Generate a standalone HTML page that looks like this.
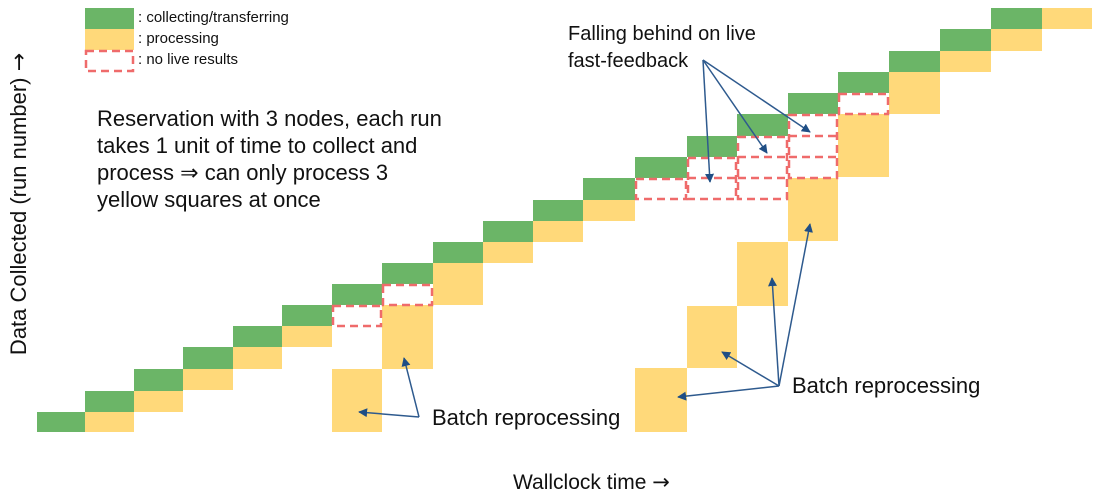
<!DOCTYPE html>
<html><head><meta charset="utf-8"><style>
html,body{margin:0;padding:0;background:#fff;}
svg{display:block;}
text{font-family:"Liberation Sans",Arial,sans-serif;fill:#111;}
</style></head><body>
<svg width="1101" height="496" viewBox="0 0 1101 496" xmlns="http://www.w3.org/2000/svg">
<defs>
<marker id="ah" viewBox="0 0 10 10" refX="9" refY="5" markerWidth="9" markerHeight="9" markerUnits="userSpaceOnUse" orient="auto">
<path d="M0,0 L10,5 L0,10 z" fill="#1f4e85"/>
</marker>
</defs>
<g fill="#6bb567">
<rect x="37" y="412" width="48" height="20"/>
<rect x="85" y="391" width="49" height="21"/>
<rect x="134" y="369" width="49" height="22"/>
<rect x="183" y="347" width="50" height="22"/>
<rect x="233" y="326" width="49" height="21"/>
<rect x="282" y="305" width="50" height="21"/>
<rect x="332" y="284" width="50" height="21"/>
<rect x="382" y="263" width="51" height="21"/>
<rect x="433" y="242" width="50" height="21"/>
<rect x="483" y="221" width="50" height="21"/>
<rect x="533" y="200" width="50" height="21"/>
<rect x="583" y="178" width="52" height="22"/>
<rect x="635" y="157" width="52" height="21"/>
<rect x="687" y="136" width="50" height="21"/>
<rect x="737" y="114" width="51" height="22"/>
<rect x="788" y="93" width="50" height="21"/>
<rect x="838" y="72" width="51" height="21"/>
<rect x="889" y="51" width="51" height="21"/>
<rect x="940" y="29" width="51" height="22"/>
<rect x="991" y="8" width="51" height="21"/>
<rect x="85" y="8" width="49" height="21"/>
</g>
<g fill="#ffd97a">
<rect x="85" y="412" width="49" height="20"/>
<rect x="134" y="391" width="49" height="21"/>
<rect x="183" y="369" width="50" height="21"/>
<rect x="233" y="347" width="49" height="22"/>
<rect x="282" y="326" width="50" height="21"/>
<rect x="433" y="263" width="50" height="42"/>
<rect x="483" y="242" width="50" height="21"/>
<rect x="533" y="221" width="50" height="21"/>
<rect x="583" y="200" width="52" height="21"/>
<rect x="788" y="178" width="50" height="63"/>
<rect x="838" y="114" width="51" height="63"/>
<rect x="889" y="72" width="51" height="42"/>
<rect x="940" y="51" width="51" height="21"/>
<rect x="991" y="29" width="51" height="22"/>
<rect x="1042" y="8" width="50" height="21"/>
<rect x="332" y="369" width="50" height="63"/>
<rect x="382" y="305" width="51" height="64"/>
<rect x="635" y="368" width="52" height="64"/>
<rect x="687" y="306" width="50" height="62"/>
<rect x="737" y="242" width="51" height="64"/>
<rect x="85" y="29" width="49" height="21"/>
</g>
<g fill="none" stroke="#ef6b6b" stroke-width="2.5" stroke-dasharray="8,5">
<rect x="86" y="51" width="47" height="20"/>
<rect x="333" y="306" width="48" height="20"/>
<rect x="383" y="285" width="49" height="20"/>
<rect x="636" y="179" width="50" height="20"/>
<rect x="688" y="158" width="48" height="41"/>
<line x1="688" y1="178" x2="736" y2="178"/>
<rect x="738" y="137" width="49" height="62"/>
<line x1="738" y1="157" x2="787" y2="157"/>
<line x1="738" y1="178" x2="787" y2="178"/>
<rect x="789" y="115" width="48" height="63"/>
<line x1="789" y1="136" x2="837" y2="136"/>
<line x1="789" y1="157" x2="837" y2="157"/>
<rect x="839" y="94" width="49" height="20"/>
</g>
<g stroke="#2e5a8e" stroke-width="1.5" fill="none" marker-end="url(#ah)">
<line x1="419" y1="417" x2="404" y2="358"/>
<line x1="419" y1="417" x2="359" y2="412"/>
<line x1="779" y1="386" x2="678" y2="397"/>
<line x1="779" y1="386" x2="722" y2="352"/>
<line x1="779" y1="386" x2="772" y2="278"/>
<line x1="779" y1="386" x2="810" y2="224"/>
<line x1="703" y1="60" x2="710" y2="182"/>
<line x1="703" y1="60" x2="767" y2="153"/>
<line x1="703" y1="60" x2="810" y2="132"/>
</g>
<text x="138" y="22" font-size="15">: collecting/transferring</text>
<text x="138" y="43" font-size="15">: processing</text>
<text x="138" y="64" font-size="15">: no live results</text>
<g font-size="22">
<text x="97" y="126">Reservation with 3 nodes, each run</text>
<text x="97" y="153">takes 1 unit of time to collect and</text>
<text x="97" y="180">process ⇒ can only process 3</text>
<text x="97" y="207">yellow squares at once</text>
<text x="432" y="425">Batch reprocessing</text>
<text x="792" y="393">Batch reprocessing</text>
<text x="513" y="489" font-size="21">Wallclock time <tspan font-family="DejaVu Sans, sans-serif">→</tspan></text>
<text transform="translate(26,204) rotate(-90)" text-anchor="middle">Data Collected (run number) <tspan font-family="DejaVu Sans, sans-serif">→</tspan></text>
</g>
<g font-size="20">
<text x="568" y="40">Falling behind on live</text>
<text x="568" y="67">fast-feedback</text>
</g>
</svg>
</body></html>
